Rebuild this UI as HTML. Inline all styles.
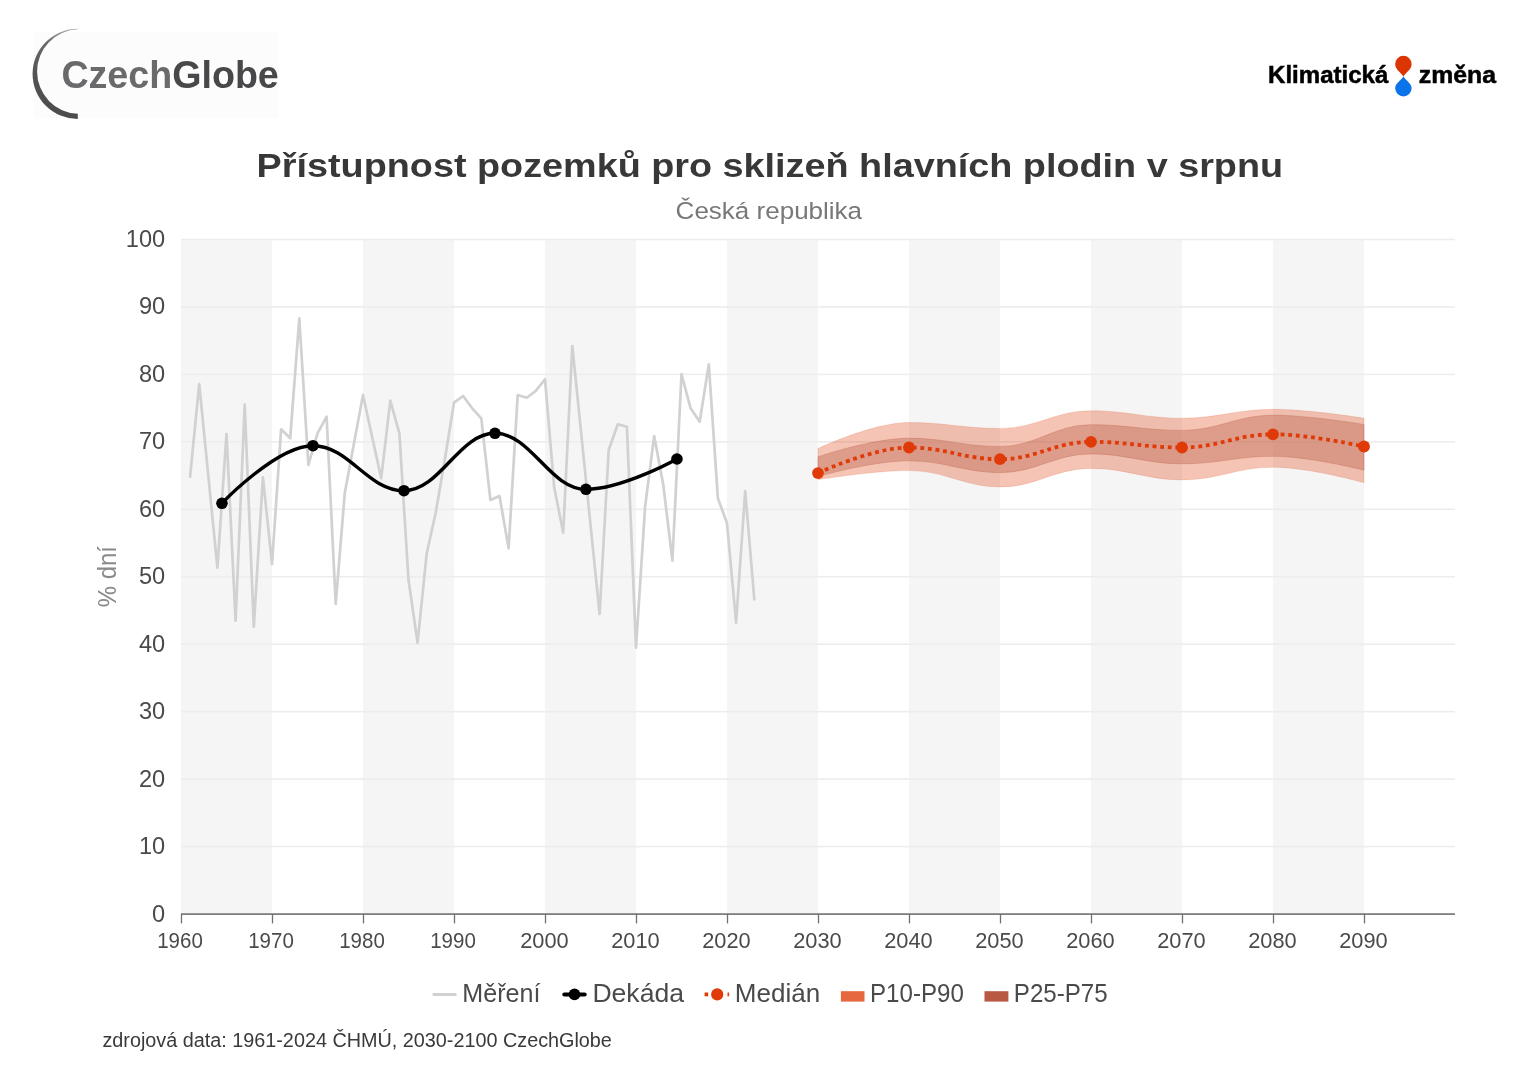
<!DOCTYPE html>
<html lang="cs"><head><meta charset="utf-8"><title>Přístupnost pozemků pro sklizeň hlavních plodin v srpnu</title>
<style>html,body{margin:0;padding:0;background:#fff}body{width:1527px;height:1080px;overflow:hidden}svg{display:block;will-change:transform}text{font-family:"Liberation Sans",sans-serif}</style>
</head><body>
<svg width="1527" height="1080" viewBox="0 0 1527 1080">
<rect width="1527" height="1080" fill="#fff"/>
<defs><linearGradient id="cg" x1="0" y1="1" x2="0" y2="0"><stop offset="0" stop-color="#4b4b4b"/><stop offset="0.5" stop-color="#535353"/><stop offset="0.85" stop-color="#6a6a6a"/><stop offset="1" stop-color="#a8a8a8"/></linearGradient></defs>
<rect x="34" y="32" width="244.5" height="86.5" fill="#fcfcfc"/>
<path d="M77.8 28.75 A45.13 45.13 0 0 0 32.57 73.9 A45.13 45.13 0 0 0 77.8 119 L77.8 113.82 A42.3 42.3 0 0 1 77.8 29.28 Z" fill="url(#cg)"/>
<text x="61.4" y="87.7" font-size="39.3" font-weight="bold" textLength="217.4" lengthAdjust="spacingAndGlyphs"><tspan fill="#6a6a6c">Czech</tspan><tspan fill="#48484a">Globe</tspan></text>
<text x="1268" y="82.5" font-size="23.5" font-weight="bold" fill="#000" stroke="#000" stroke-width="0.5" textLength="120.4" lengthAdjust="spacingAndGlyphs">Klimatická</text>
<text x="1418.8" y="82.5" font-size="23.5" font-weight="bold" fill="#000" stroke="#000" stroke-width="0.5" textLength="77.2" lengthAdjust="spacingAndGlyphs">změna</text>
<path d="M1403.4 76.4 C1400 71.5 1395.2 69.5 1395.2 64 A8.2 8.2 0 0 1 1411.6 64 C1411.6 69.5 1406.8 71.5 1403.4 76.4 Z" fill="#dc3503"/>
<path d="M1403.4 76.4 C1400 81.3 1395.2 83.3 1395.2 88.2 A8.2 8.2 0 0 0 1411.6 88.2 C1411.6 83.3 1406.8 81.3 1403.4 76.4 Z" fill="#0b74ea"/>
<text x="256.6" y="176.7" font-size="34" font-weight="bold" fill="#383838" textLength="1026.5" lengthAdjust="spacingAndGlyphs">Přístupnost pozemků pro sklizeň hlavních plodin v srpnu</text>
<text x="675.6" y="218.6" font-size="24.5" fill="#787878" textLength="186.5" lengthAdjust="spacingAndGlyphs">Česká republika</text>
<rect x="181" y="239.5" width="91" height="674.5" fill="#f5f5f5"/>
<rect x="363" y="239.5" width="91" height="674.5" fill="#f5f5f5"/>
<rect x="545" y="239.5" width="91" height="674.5" fill="#f5f5f5"/>
<rect x="727" y="239.5" width="91" height="674.5" fill="#f5f5f5"/>
<rect x="909" y="239.5" width="91" height="674.5" fill="#f5f5f5"/>
<rect x="1091" y="239.5" width="91" height="674.5" fill="#f5f5f5"/>
<rect x="1273" y="239.5" width="91" height="674.5" fill="#f5f5f5"/>
<rect x="181" y="845.75" width="1274" height="1.6" fill="#ededed"/>
<rect x="181" y="778.3" width="1274" height="1.6" fill="#ededed"/>
<rect x="181" y="710.85" width="1274" height="1.6" fill="#ededed"/>
<rect x="181" y="643.4" width="1274" height="1.6" fill="#ededed"/>
<rect x="181" y="575.95" width="1274" height="1.6" fill="#ededed"/>
<rect x="181" y="508.5" width="1274" height="1.6" fill="#ededed"/>
<rect x="181" y="441.05" width="1274" height="1.6" fill="#ededed"/>
<rect x="181" y="373.6" width="1274" height="1.6" fill="#ededed"/>
<rect x="181" y="306.15" width="1274" height="1.6" fill="#ededed"/>
<rect x="181" y="238.7" width="1274" height="1.6" fill="#ededed"/>
<rect x="181" y="913.3" width="1274" height="1.6" fill="#707070"/>
<rect x="180.85" y="914" width="1.3" height="9.4" fill="#707070"/>
<rect x="271.85" y="914" width="1.3" height="9.4" fill="#707070"/>
<rect x="362.85" y="914" width="1.3" height="9.4" fill="#707070"/>
<rect x="453.85" y="914" width="1.3" height="9.4" fill="#707070"/>
<rect x="544.85" y="914" width="1.3" height="9.4" fill="#707070"/>
<rect x="635.85" y="914" width="1.3" height="9.4" fill="#707070"/>
<rect x="726.85" y="914" width="1.3" height="9.4" fill="#707070"/>
<rect x="817.85" y="914" width="1.3" height="9.4" fill="#707070"/>
<rect x="908.85" y="914" width="1.3" height="9.4" fill="#707070"/>
<rect x="999.85" y="914" width="1.3" height="9.4" fill="#707070"/>
<rect x="1090.85" y="914" width="1.3" height="9.4" fill="#707070"/>
<rect x="1181.85" y="914" width="1.3" height="9.4" fill="#707070"/>
<rect x="1272.85" y="914" width="1.3" height="9.4" fill="#707070"/>
<rect x="1363.85" y="914" width="1.3" height="9.4" fill="#707070"/>
<text x="165.2" y="921.5" font-size="23.6" fill="#4a4a4a" text-anchor="end">0</text>
<text x="165.2" y="854.05" font-size="23.6" fill="#4a4a4a" text-anchor="end">10</text>
<text x="165.2" y="786.6" font-size="23.6" fill="#4a4a4a" text-anchor="end">20</text>
<text x="165.2" y="719.15" font-size="23.6" fill="#4a4a4a" text-anchor="end">30</text>
<text x="165.2" y="651.7" font-size="23.6" fill="#4a4a4a" text-anchor="end">40</text>
<text x="165.2" y="584.25" font-size="23.6" fill="#4a4a4a" text-anchor="end">50</text>
<text x="165.2" y="516.8" font-size="23.6" fill="#4a4a4a" text-anchor="end">60</text>
<text x="165.2" y="449.35" font-size="23.6" fill="#4a4a4a" text-anchor="end">70</text>
<text x="165.2" y="381.9" font-size="23.6" fill="#4a4a4a" text-anchor="end">80</text>
<text x="165.2" y="314.45" font-size="23.6" fill="#4a4a4a" text-anchor="end">90</text>
<text x="165.2" y="247" font-size="23.6" fill="#4a4a4a" text-anchor="end">100</text>
<text x="157.2" y="948.2" font-size="21.5" fill="#4a4a4a" textLength="45.6" lengthAdjust="spacingAndGlyphs">1960</text>
<text x="248.2" y="948.2" font-size="21.5" fill="#4a4a4a" textLength="45.6" lengthAdjust="spacingAndGlyphs">1970</text>
<text x="339.2" y="948.2" font-size="21.5" fill="#4a4a4a" textLength="45.6" lengthAdjust="spacingAndGlyphs">1980</text>
<text x="430.2" y="948.2" font-size="21.5" fill="#4a4a4a" textLength="45.6" lengthAdjust="spacingAndGlyphs">1990</text>
<text x="520.15" y="948.2" font-size="21.5" fill="#4a4a4a" textLength="48.5" lengthAdjust="spacingAndGlyphs">2000</text>
<text x="611.15" y="948.2" font-size="21.5" fill="#4a4a4a" textLength="48.5" lengthAdjust="spacingAndGlyphs">2010</text>
<text x="702.15" y="948.2" font-size="21.5" fill="#4a4a4a" textLength="48.5" lengthAdjust="spacingAndGlyphs">2020</text>
<text x="793.15" y="948.2" font-size="21.5" fill="#4a4a4a" textLength="48.5" lengthAdjust="spacingAndGlyphs">2030</text>
<text x="884.15" y="948.2" font-size="21.5" fill="#4a4a4a" textLength="48.5" lengthAdjust="spacingAndGlyphs">2040</text>
<text x="975.15" y="948.2" font-size="21.5" fill="#4a4a4a" textLength="48.5" lengthAdjust="spacingAndGlyphs">2050</text>
<text x="1066.15" y="948.2" font-size="21.5" fill="#4a4a4a" textLength="48.5" lengthAdjust="spacingAndGlyphs">2060</text>
<text x="1157.15" y="948.2" font-size="21.5" fill="#4a4a4a" textLength="48.5" lengthAdjust="spacingAndGlyphs">2070</text>
<text x="1248.15" y="948.2" font-size="21.5" fill="#4a4a4a" textLength="48.5" lengthAdjust="spacingAndGlyphs">2080</text>
<text x="1339.15" y="948.2" font-size="21.5" fill="#4a4a4a" textLength="48.5" lengthAdjust="spacingAndGlyphs">2090</text>
<text transform="translate(115.7 607.2) rotate(-90)" font-size="25.5" fill="#8a8a8a" textLength="61.2" lengthAdjust="spacingAndGlyphs">% dní</text>
<path d="M818 448.5 C818 448.5 872.6 422.5 909 422.5 C945.4 422.5 963.6 428.4 1000 428.4 C1036.4 428.4 1054.6 410.7 1091 410.7 C1127.4 410.7 1145.6 418.2 1182 418.2 C1218.4 418.2 1236.6 409.3 1273 409.3 C1309.4 409.3 1364 418.2 1364 418.2 L1364 482.8 C1364 482.8 1309.4 467.3 1273 467.3 C1236.6 467.3 1218.4 479.9 1182 479.9 C1145.6 479.9 1127.4 468.4 1091 468.4 C1054.6 468.4 1036.4 487 1000 487 C963.6 487 945.4 470.6 909 470.6 C872.6 470.6 818 479.8 818 479.8 Z" fill="#df3a08" fill-opacity="0.3" stroke="#df3a08" stroke-opacity="0.25" stroke-width="0.6"/>
<path d="M818 456.8 C818 456.8 872.6 438.2 909 438.2 C945.4 438.2 963.6 446.5 1000 446.5 C1036.4 446.5 1054.6 424.7 1091 424.7 C1127.4 424.7 1145.6 430.4 1182 430.4 C1218.4 430.4 1236.6 415.2 1273 415.2 C1309.4 415.2 1364 424.5 1364 424.5 L1364 470.2 C1364 470.2 1309.4 456.3 1273 456.3 C1236.6 456.3 1218.4 463.8 1182 463.8 C1145.6 463.8 1127.4 453.9 1091 453.9 C1054.6 453.9 1036.4 472.6 1000 472.6 C963.6 472.6 945.4 460.8 909 460.8 C872.6 460.8 818 476.5 818 476.5 Z" fill="#b85842" fill-opacity="0.36" stroke="#b85842" stroke-opacity="0.45" stroke-width="0.7"/>
<path d="M190.1 476.7 L199.2 384 L208.3 475.7 L217.4 567.7 L226.5 434 L235.6 620.7 L244.7 404.7 L253.8 626.7 L262.9 477.3 L272 564 L281.1 429.3 L290.2 438.3 L299.3 318.3 L308.4 465 L317.5 433.3 L326.6 416.7 L335.7 604 L344.8 492.7 L353.9 443.7 L363 395 L372.1 436.7 L381.2 478.3 L390.3 400.7 L399.4 433.3 L408.5 580 L417.6 642.7 L426.7 553.5 L435.8 512.2 L444.9 459 L454 402.7 L463.1 396 L472.2 408.3 L481.3 418.3 L490.4 500 L499.5 496 L508.6 548.3 L517.7 395 L526.8 397.7 L535.9 390.7 L545 379.3 L554.1 486.7 L563.2 532.7 L572.3 346 L581.4 435.3 L590.5 524.7 L599.6 614 L608.7 450 L617.8 424.3 L626.9 426.7 L636 647.7 L645.1 506.7 L654.2 436 L663.3 485 L672.4 560.7 L681.5 374 L690.6 408.3 L699.7 421.7 L708.8 364.3 L717.9 498.3 L727 523.3 L736.1 622.7 L745.2 491 L754.3 599.3" fill="none" stroke="#d1d1d1" stroke-width="2.7" stroke-linejoin="round" stroke-linecap="round"/>
<path d="M221.95 503.3 C221.95 503.3 276.55 445.7 312.95 445.7 C349.35 445.7 367.55 490.7 403.95 490.7 C440.35 490.7 458.55 433.3 494.95 433.3 C531.35 433.3 549.55 489.3 585.95 489.3 C622.35 489.3 676.95 459 676.95 459" fill="none" stroke="#000" stroke-width="3.4" stroke-linecap="round"/>
<circle cx="221.95" cy="503.3" r="5.8" fill="#000"/>
<circle cx="312.95" cy="445.7" r="5.8" fill="#000"/>
<circle cx="403.95" cy="490.7" r="5.8" fill="#000"/>
<circle cx="494.95" cy="433.3" r="5.8" fill="#000"/>
<circle cx="585.95" cy="489.3" r="5.8" fill="#000"/>
<circle cx="676.95" cy="459" r="5.8" fill="#000"/>
<path d="M818 473.1 C818 473.1 872.6 447.5 909 447.5 C945.4 447.5 963.6 459.2 1000 459.2 C1036.4 459.2 1054.6 441.8 1091 441.8 C1127.4 441.8 1145.6 447.5 1182 447.5 C1218.4 447.5 1236.6 434.3 1273 434.3 C1309.4 434.3 1364 446.5 1364 446.5" fill="none" stroke="#df3a08" stroke-width="3.8" stroke-dasharray="3.8 3.8"/>
<circle cx="818" cy="473.1" r="5.9" fill="#df3a08"/>
<circle cx="909" cy="447.5" r="5.9" fill="#df3a08"/>
<circle cx="1000" cy="459.2" r="5.9" fill="#df3a08"/>
<circle cx="1091" cy="441.8" r="5.9" fill="#df3a08"/>
<circle cx="1182" cy="447.5" r="5.9" fill="#df3a08"/>
<circle cx="1273" cy="434.3" r="5.9" fill="#df3a08"/>
<circle cx="1364" cy="446.5" r="5.9" fill="#df3a08"/>
<rect x="432.4" y="992.9" width="24.3" height="3" rx="1.5" fill="#d1d1d1"/>
<text x="462.3" y="1001.6" font-size="25" fill="#4a4a4a" textLength="78.2" lengthAdjust="spacingAndGlyphs">Měření</text>
<rect x="562.3" y="992.4" width="24.4" height="4" rx="2" fill="#000"/><circle cx="574.5" cy="994.4" r="5.8" fill="#000"/>
<text x="592.4" y="1001.6" font-size="25" fill="#4a4a4a" textLength="91.6" lengthAdjust="spacingAndGlyphs">Dekáda</text>
<rect x="704.6" y="992.5" width="3.6" height="3.8" fill="#df3a08"/><rect x="727.5" y="992.5" width="1.6" height="3.8" fill="#df3a08"/><circle cx="717.2" cy="994.4" r="6.1" fill="#df3a08"/>
<text x="734.8" y="1001.6" font-size="25" fill="#4a4a4a" textLength="85.4" lengthAdjust="spacingAndGlyphs">Medián</text>
<rect x="840.9" y="991.2" width="23.6" height="10.4" fill="#e5683f"/>
<text x="870" y="1001.6" font-size="25" fill="#4a4a4a" textLength="93.8" lengthAdjust="spacingAndGlyphs">P10-P90</text>
<rect x="984.5" y="991.2" width="23.9" height="10.4" fill="#b85842"/>
<text x="1013.8" y="1001.6" font-size="25" fill="#4a4a4a" textLength="93.9" lengthAdjust="spacingAndGlyphs">P25-P75</text>
<text x="102.4" y="1046.7" font-size="20" fill="#3a3a3a" textLength="509.5" lengthAdjust="spacingAndGlyphs">zdrojová data: 1961-2024 ČHMÚ, 2030-2100 CzechGlobe</text>
</svg></body></html>
